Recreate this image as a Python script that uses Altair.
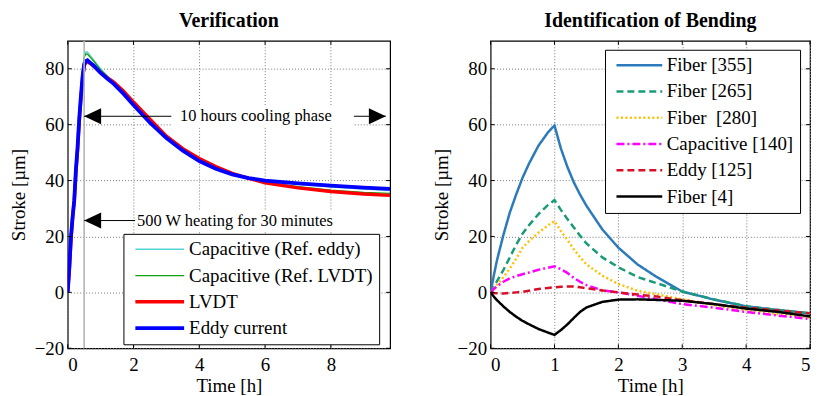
import altair as alt
import pandas as pd

FONT = "Liberation Serif"

# ---------------- Left panel: Verification ----------------
T_LEFT = [0, 0.05, 0.1, 0.15, 0.2, 0.25, 0.3, 0.35, 0.4, 0.45, 0.5, 0.55, 0.6, 0.7, 0.8,
          1.0, 1.2, 1.4, 1.7, 2.0, 2.5, 3.0, 3.5, 4.0, 4.5, 5.0, 5.5, 6.0, 7.0, 8.0, 9.0, 9.8]
CAP_EDDY = [0, 8.5, 20, 28, 34, 45, 54, 64, 73, 80, 84.5, 86, 86, 84.5, 83,
            80, 77.5, 75.4, 71.7, 67.8, 61.3, 55.8, 51.1, 47.4, 44.5, 42.4, 41.0, 39.9, 38.7, 37.7, 36.9, 36.4]
CAP_LVDT = [0, 8.5, 20, 28, 34, 45, 53.5, 63.5, 72, 79.5, 84, 85.3, 85.2, 84, 82.6,
            79.6, 77.3, 75.3, 71.7, 67.8, 61.4, 55.9, 51.3, 47.6, 44.7, 42.5, 40.8, 39.4, 37.8, 36.6, 35.8, 35.4]
LVDT = [0, 8, 19, 27, 33, 43, 51, 61, 69, 76, 81, 82.3, 82.5, 81.8, 80.8,
        78.6, 76.8, 75.2, 72, 68.1, 62.0, 55.9, 51.4, 47.9, 45.0, 42.6, 40.8, 39.2, 37.4, 36.1, 35.2, 34.7]
EDDY = [0, 9, 20, 27, 33, 44, 52, 62, 70, 77, 81.5, 82.7, 83, 82, 81,
        78.5, 76.5, 74.6, 71, 67, 60.7, 55.2, 50.7, 47.0, 44.2, 42.2, 40.9, 40.0, 39.0, 38.2, 37.5, 37]
LEFT_NAMES = ["Capacitive (Ref. eddy)", "Capacitive (Ref. LVDT)", "LVDT", "Eddy current"]
LEFT_SERIES = [CAP_EDDY, CAP_LVDT, LVDT, EDDY]
LEFT_COLORS = ["#55D4D4", "#12A012", "#FF0000", "#0000FF"]
LEFT_WIDTHS = [1.3, 1.3, 3.4, 3.8]
LEFT_XTICKS = [0, 2, 4, 6, 8]

HEAT_END_T = [0.5]
ARROW_T1 = [0.5, 0.5]
ARROW_T2 = [9.67, 2.05]
ARROW_V = [63, 25.7]
BOX_T1 = [3.15, 2.07]
BOX_T2 = [8.7, 8.2]
BOX_V1 = [59.2, 22.0]
BOX_V2 = [67.0, 29.4]
TEXT_T = [5.72, 2.11]
TEXT_V = [63, 25.7]
TEXT_LABELS = ["10 hours cooling phase", "500 W heating for 30 minutes"]

# ---------------- Right panel: Identification of Bending ----------------
T_RIGHT = [0, 0.05, 0.1, 0.2, 0.3, 0.4, 0.5, 0.6, 0.75, 0.9, 1.0, 1.1, 1.2, 1.3, 1.4, 1.5,
           1.75, 2.0, 2.3, 2.6, 3.0, 3.5, 4.0, 4.5, 5.0]
FIBER_355 = [0, 6, 11.5, 20.5, 28.5, 35, 41, 46, 52.5, 57.3, 59.7, 51.5, 45, 39.5, 35, 31,
             22.5, 16, 10, 5.5, 0.3, -2.6, -5, -6.3, -7.5]
FIBER_265 = [0, 2, 4, 8, 12.5, 17, 21, 24, 28, 31.3, 33, 29.5, 26.3, 23.3, 20.3, 17.5,
             12.5, 9, 5.5, 3.3, 0.3, -2.5, -5, -6.3, -7.5]
FIBER_280 = [0, 1.3, 2.7, 5.4, 8.5, 12, 16, 18.3, 21.4, 24, 25.5, 22, 18.8, 15.5, 12.6, 10,
             6, 3, 0.6, -0.7, -2.5, -4.5, -6.3, -7.8, -9]
CAP_140 = [0, 1.2, 2.2, 3.8, 5, 5.8, 6.5, 7.1, 8.1, 8.8, 9.3, 8.3, 7.0, 5.2, 3.8, 2.6,
           0.7, 0, -1.2, -2.5, -4.2, -5.5, -7, -8.3, -9.5]
EDDY_125 = [0, -0.2, -0.3, -0.4, -0.2, 0, 0.2, 0.6, 1.2, 1.6, 1.8, 2.0, 2.1, 2.1, 1.8, 1.5,
            0.7, 0, -0.8, -1.5, -2.8, -4.2, -5.5, -6.5, -7.5]
FIBER_4 = [0, -1.5, -2.8, -5, -7, -8.7, -10.2, -11.4, -13.1, -14.4, -15.2, -13.5, -11.5, -9.2, -7, -5.4,
           -3.4, -2.6, -2.5, -2.7, -3.0, -4.2, -5.8, -7, -8.6]
RIGHT_NAMES = ["Fiber [355]", "Fiber [265]", "Fiber\u00a0 [280]", "Capacitive [140]", "Eddy [125]", "Fiber [4]"]
RIGHT_SERIES = [FIBER_355, FIBER_265, FIBER_280, CAP_140, EDDY_125, FIBER_4]
RIGHT_COLORS = ["#2B7BBA", "#1A9B77", "#FFC000", "#FF00FF", "#D7102A", "#000000"]
RIGHT_DASHES = [[1, 0], [7, 4], [2, 2.5], [8, 3, 2, 3], [7, 4], [1, 0]]
RIGHT_XTICKS = [0, 1, 2, 3, 4, 5]

Y_TICKS = [-20, 0, 20, 40, 60, 80]

# ---------------- Data frames ----------------
left_rows = []
for name, vals in zip(LEFT_NAMES, LEFT_SERIES):
    for t, v in zip(T_LEFT, vals):
        left_rows.append({"t": t, "v": v, "series": name})
left_df = pd.DataFrame(left_rows)

right_rows = []
for name, vals in zip(RIGHT_NAMES, RIGHT_SERIES):
    for t, v in zip(T_RIGHT, vals):
        right_rows.append({"t": t, "v": v, "series": name})
right_df = pd.DataFrame(right_rows)

arrow_df = pd.DataFrame({"t": ARROW_T1, "t2": ARROW_T2, "v": ARROW_V})
box_df = pd.DataFrame({"t": BOX_T1, "t2": BOX_T2, "v": BOX_V1, "v2": BOX_V2})
text_df = pd.DataFrame({"t": TEXT_T, "v": TEXT_V, "label": TEXT_LABELS})
heads_left = pd.DataFrame({"t": ARROW_T1, "v": ARROW_V})
heads_right = pd.DataFrame({"t": [ARROW_T2[0]], "v": [ARROW_V[0]]})
mark_df = pd.DataFrame({"t": HEAT_END_T})
ytick_df = pd.DataFrame({"v": Y_TICKS})
xtick_l_df = pd.DataFrame({"t": LEFT_XTICKS})
xtick_r_df = pd.DataFrame({"t": RIGHT_XTICKS})

W_L, W_R, H = 324, 321, 309
TK = 4  # inward tick length

xs_l = alt.Scale(domain=[0, 9.8], nice=False, zero=False)
ys = alt.Scale(domain=[-20, 90], nice=False, zero=False)
xs_r = alt.Scale(domain=[0, 5], nice=False, zero=False)

x_l = alt.X("t:Q", scale=xs_l, axis=alt.Axis(values=LEFT_XTICKS, title="Time [h]"))
y_ax = alt.Y("v:Q", scale=ys, axis=alt.Axis(values=Y_TICKS, title="Stroke [µm]"))
x_r = alt.X("t:Q", scale=xs_r, axis=alt.Axis(values=RIGHT_XTICKS, title="Time [h]"))


def legend_spec(x, y, sym, **extra):
    return alt.Legend(
        orient="none", legendX=x, legendY=y, title=None,
        fillColor="white", strokeColor="black", padding=6,
        symbolType="stroke", symbolSize=sym * sym, symbolOffset=4,
        labelOffset=3, clipHeight=19, rowPadding=6.4,
        labelFont=FONT, labelFontSize=19, labelLimit=400, labelColor="black",
        **extra,
    )


def inward_ticks(xenc, xdf, width):
    top = alt.Chart(xdf).mark_rule(color="black", strokeWidth=1).encode(
        x=xenc, y=alt.value(0), y2=alt.value(TK))
    bottom = alt.Chart(xdf).mark_rule(color="black", strokeWidth=1).encode(
        x=xenc, y=alt.value(H), y2=alt.value(H - TK))
    left_t = alt.Chart(ytick_df).mark_rule(color="black", strokeWidth=1).encode(
        y=y_ax, x=alt.value(0), x2=alt.value(TK))
    right_t = alt.Chart(ytick_df).mark_rule(color="black", strokeWidth=1).encode(
        y=y_ax, x=alt.value(width), x2=alt.value(width - TK))
    return [top, bottom, left_t, right_t]


leg_l = legend_spec(56, 194, 49)

left_lines = alt.Chart(left_df).mark_line(clip=True).encode(
    x=x_l, y=y_ax,
    color=alt.Color("series:N", scale=alt.Scale(domain=LEFT_NAMES, range=LEFT_COLORS), legend=leg_l,
                    sort=LEFT_NAMES),
    strokeWidth=alt.StrokeWidth("series:N", scale=alt.Scale(type="ordinal", domain=LEFT_NAMES, range=LEFT_WIDTHS),
                                legend=leg_l, sort=LEFT_NAMES),
)

vline = alt.Chart(mark_df).mark_rule(color="#b5b5b5", strokeWidth=1.6).encode(x=x_l)
arrows = alt.Chart(arrow_df).mark_rule(color="black", strokeWidth=1).encode(
    x=x_l, x2="t2:Q", y=y_ax)
boxes = alt.Chart(box_df).mark_rect(color="white").encode(
    x=x_l, x2="t2:Q", y=y_ax, y2="v2:Q")
texts_c = alt.Chart(text_df.iloc[[0]]).mark_text(font=FONT, fontSize=16.5, align="center", baseline="middle",
                                                  color="black").encode(
    x=x_l, y=y_ax, text="label:N")
texts_l = alt.Chart(text_df.iloc[[1]]).mark_text(font=FONT, fontSize=16.5, align="left", baseline="middle",
                                                  color="black").encode(
    x=x_l, y=y_ax, text="label:N")
head_l = alt.Chart(heads_left).mark_point(shape="M0,0L2,-0.95L2,0.95Z", size=290, filled=True, color="black",
                                          opacity=1).encode(x=x_l, y=y_ax)
head_r = alt.Chart(heads_right).mark_point(shape="M0,0L-2,-0.95L-2,0.95Z", size=290, filled=True, color="black",
                                           opacity=1).encode(x=x_l, y=y_ax)

left = alt.layer(left_lines, vline, arrows, boxes, texts_c, texts_l, head_l, head_r,
                 *inward_ticks(x_l, xtick_l_df, W_L)).properties(
    width=W_L, height=H,
    title=alt.TitleParams("Verification", font=FONT, fontSize=20, fontWeight="bold", offset=9, color="black"),
)

leg_r = legend_spec(115, 9, 46, symbolStrokeWidth=2.5)

right_lines = alt.Chart(right_df).mark_line(clip=True, strokeWidth=2.5).encode(
    x=x_r, y=y_ax,
    color=alt.Color("series:N", scale=alt.Scale(domain=RIGHT_NAMES, range=RIGHT_COLORS), legend=leg_r,
                    sort=RIGHT_NAMES),
    strokeDash=alt.StrokeDash("series:N", scale=alt.Scale(domain=RIGHT_NAMES, range=RIGHT_DASHES),
                              legend=leg_r, sort=RIGHT_NAMES),
)

right = alt.layer(right_lines, *inward_ticks(x_r, xtick_r_df, W_R)).properties(
    width=W_R, height=H,
    title=alt.TitleParams("Identification of Bending", font=FONT, fontSize=20, fontWeight="bold", offset=9,
                          color="black"),
)

chart = alt.hconcat(left, right, spacing=101, bounds="flush").resolve_scale(
    color="independent", strokeDash="independent", strokeWidth="independent", x="independent"
).properties(
    padding={"left": 0, "top": 1, "right": 0, "bottom": 0}, background="white"
).configure_view(
    stroke="black", strokeWidth=1.2, fill="white"
).configure_axis(
    labelFont=FONT, labelFontSize=19, labelColor="black",
    titleFont=FONT, titleFontSize=19, titleFontWeight="normal", titleColor="black",
    domain=False, ticks=False, labelPadding=6,
    grid=True, gridColor="#7a7a7a", gridDash=[1, 2], gridWidth=1, gridOpacity=1,
).configure_axisX(titlePadding=2, labelPadding=7).configure_axisY(titlePadding=6, labelPadding=4).configure_legend(
    labelFont=FONT, labelFontSize=19, labelColor="black", labelLimit=400
)

chart.save("out.html", embed_options={"renderer": "svg", "actions": False})
